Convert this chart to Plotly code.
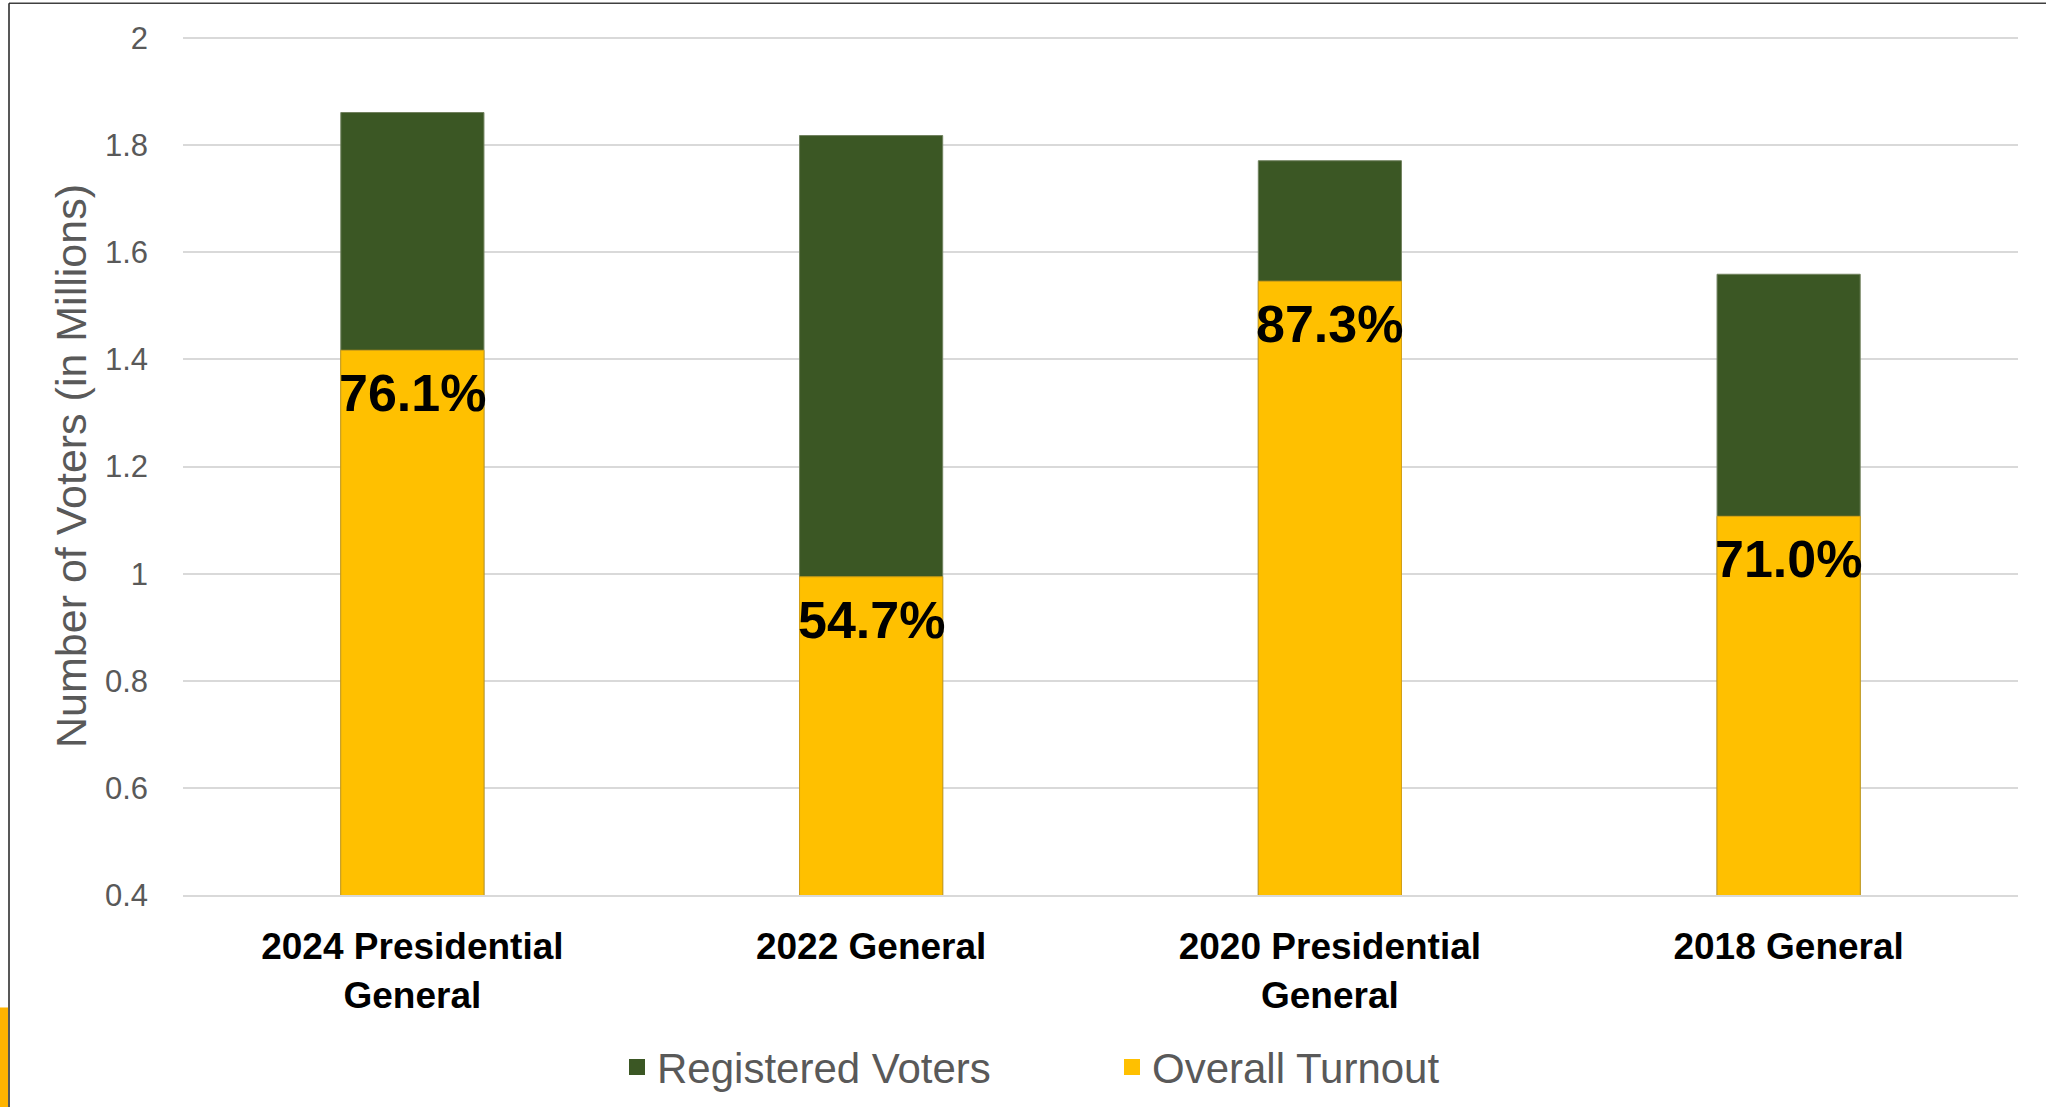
import plotly.graph_objects as go

categories = ["2024 Presidential<br>General", "2022 General", "2020 Presidential<br>General", "2018 General"]
registered = [1.861, 1.818, 1.771, 1.559]
turnout = [1.417, 0.994, 1.546, 1.107]
pct_labels = ["76.1%", "54.7%", "87.3%", "71.0%"]
y_tickvals = [0.4, 0.6, 0.8, 1.0, 1.2, 1.4, 1.6, 1.8, 2.0]
y_ticktext = ["0.4", "0.6", "0.8", "1", "1.2", "1.4", "1.6", "1.8", "2"]

GREEN = "#3B5724"
YELLOW = "#FFC000"
GRAY = "#595959"
FONT = "Liberation Sans, Arial, sans-serif"

fig = go.Figure()
fig.add_trace(go.Bar(
    x=categories, y=registered, name="Registered Voters",
    marker=dict(color=GREEN, line=dict(color="#71825f", width=1)),
    width=0.312, showlegend=False,
))
fig.add_trace(go.Bar(
    x=categories, y=turnout, name="Overall Turnout",
    marker=dict(color=YELLOW, line=dict(color="#d4a017", width=1)),
    width=0.312, showlegend=False,
))
# legend entries
fig.add_trace(go.Scatter(x=[None], y=[None], mode="markers", name="Registered Voters",
                         marker=dict(symbol="square", size=16, color=GREEN)))
fig.add_trace(go.Scatter(x=[None], y=[None], mode="markers", name="Overall Turnout",
                         marker=dict(symbol="square", size=16, color=YELLOW)))

annotations = [
    dict(x=c, y=t, xref="x", yref="y", text=lbl, showarrow=False,
         yanchor="top", xanchor="center", yshift=-12,
         font=dict(family=FONT, size=52, color="black", weight="bold"))
    for c, t, lbl in zip(categories, turnout, pct_labels)
]

def px_x(p):
    return (p - 183) / 1835.0

def px_y(p):
    return (900 - p) / 862.0

shapes = [
    dict(type="line", xref="paper", yref="paper", x0=px_x(9), x1=px_x(2046), y0=px_y(4), y1=px_y(4),
         line=dict(color="#404040", width=1.5)),
    dict(type="line", xref="paper", yref="paper", x0=px_x(9), x1=px_x(9), y0=px_y(4), y1=px_y(1113),
         line=dict(color="#202020", width=1.5)),
    dict(type="rect", xref="paper", yref="paper", x0=px_x(0), x1=px_x(8), y0=px_y(1013), y1=px_y(1113),
         line=dict(width=0), fillcolor="#FFB400"),
]

fig.update_layout(
    width=2046, height=1113,
    margin=dict(l=183, r=28, t=37, b=213),
    paper_bgcolor="white", plot_bgcolor="white",
    barmode="overlay",
    font=dict(family=FONT, color=GRAY),
    shapes=shapes,
    annotations=annotations,
    legend=dict(
        orientation="h", x=px_x(617), xanchor="left", y=px_y(1073), yanchor="middle",
        font=dict(family=FONT, size=42, color=GRAY), entrywidth=450, entrywidthmode="pixels",
        bgcolor="rgba(0,0,0,0)",
    ),
    xaxis=dict(
        showgrid=False, showline=True, linecolor="#d9d9d9", linewidth=2,
        tickfont=dict(family=FONT, size=37, color="black", weight="bold"),
        ticks="", ticklabelstandoff=18,
    ),
    yaxis=dict(
        range=[0.4, 2.002], tickvals=y_tickvals, ticktext=y_ticktext,
        showgrid=True, gridcolor="#d9d9d9", gridwidth=2, zeroline=False,
        tickfont=dict(family=FONT, size=31, color=GRAY),
        ticklabelstandoff=34,
        title=dict(text="Number of Voters (in Millions)", font=dict(family=FONT, size=43, color=GRAY), standoff=4),
    ),
)

fig.write_html("out.html",
               post_script="document.body.style.margin='0px';document.body.style.overflow='hidden';",
               config={"displayModeBar": False})
